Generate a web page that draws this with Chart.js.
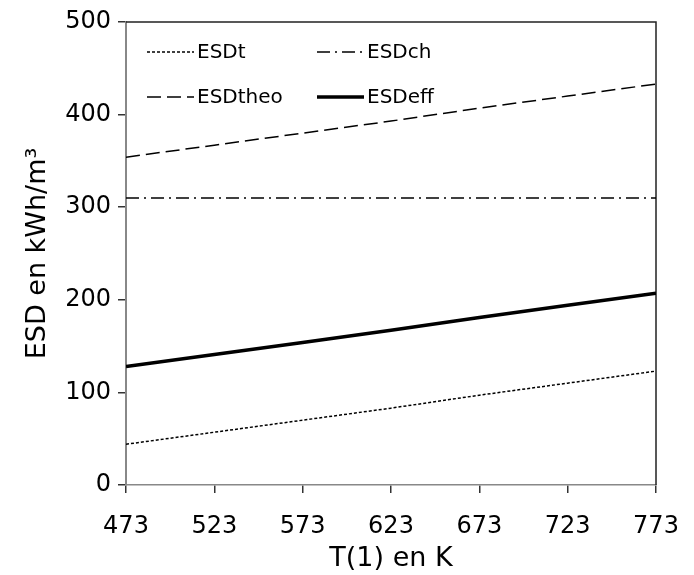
<!DOCTYPE html>
<html>
<head>
<meta charset="utf-8">
<script src="https://cdn.jsdelivr.net/npm/chart.js@4"></script>
<style>
  html, body { margin: 0; padding: 0; background: #fff; }
  #wrap { width: 694px; height: 575px; }
</style>
</head>
<body>
<div id="wrap"><canvas id="myChart"></canvas></div>
<script>
const ctx = document.getElementById('myChart').getContext('2d');

// Temperature T(1) in K
const temps = [473, 523, 573, 623, 673, 723, 773];

// ESD values in kWh/m3
const esdT = [44, 57, 70, 83, 97, 110, 123];
const esdCh = [310, 310, 310, 310, 310, 310, 310];
const esdTheo = [354, 367, 380, 393, 407, 420, 433];
const esdEff = [128, 141, 154, 167, 181, 194, 207];

const FONT = '"DejaVu Sans", Verdana, sans-serif';

function pts(vals) {
    return vals.map((v, i) => ({ x: temps[i], y: v }));
}

const data = {
    datasets: [
        { label: 'ESDt', data: pts(esdT), borderColor: '#000', borderWidth: 1.5, borderDash: [3, 2] },
        { label: 'ESDch', data: pts(esdCh), borderColor: '#000', borderWidth: 1.5, borderDash: [13, 5, 2, 5] },
        { label: 'ESDtheo', data: pts(esdTheo), borderColor: '#000', borderWidth: 1.5, borderDash: [14, 6] },
        { label: 'ESDeff', data: pts(esdEff), borderColor: '#000', borderWidth: 3.5 }
    ]
};

// frame on top and right of the plot area
const framePlugin = {
    id: 'frame',
    beforeDatasetsDraw(chart) {
        const a = chart.chartArea, c = chart.ctx;
        c.save();
        c.strokeStyle = '#222';
        c.lineWidth = 1.5;
        c.beginPath();
        c.moveTo(a.left, a.top);
        c.lineTo(a.right, a.top);
        c.lineTo(a.right, a.bottom);
        c.stroke();
        c.restore();
    }
};

// legend drawn inside the plot, two columns
const insideLegend = {
    id: 'insideLegend',
    afterDatasetsDraw(chart) {
        const a = chart.chartArea, c = chart.ctx;
        const cols = [a.left + 21, a.left + 191];
        const rows = [a.top + 30, a.top + 75];
        c.save();
        c.font = '20px ' + FONT;
        c.textBaseline = 'middle';
        c.fillStyle = '#000';
        chart.data.datasets.forEach((ds, i) => {
            const x = cols[i % 2], y = rows[Math.floor(i / 2)];
            c.strokeStyle = ds.borderColor;
            c.lineWidth = ds.borderWidth;
            c.setLineDash(ds.borderDash || []);
            c.beginPath();
            c.moveTo(x, y);
            c.lineTo(x + 47, y);
            c.stroke();
            c.setLineDash([]);
            c.fillText(ds.label, x + 50, y + 1);
        });
        c.restore();
    }
};

const options = {
    responsive: true,
    maintainAspectRatio: false,
    animation: false,
    layout: { padding: { top: 22, right: 38, left: 0, bottom: 0 } },
    elements: { point: { radius: 0 }, line: { tension: 0 } },
    plugins: {
        legend: { display: false },
        tooltip: { enabled: false }
    },
    scales: {
        x: {
            type: 'linear',
            min: 473,
            max: 773,
            afterBuildTicks(axis) {
                axis.ticks = temps.map(v => ({ value: v }));
            },
            afterFit(axis) {
                axis.height = 90;
                axis.paddingLeft = 0;
                axis.paddingRight = 0;
            },
            grid: { drawOnChartArea: false, drawTicks: true, tickLength: 8, color: '#333', lineWidth: 1.5 },
            border: { color: '#888', width: 1.5 },
            ticks: { color: '#000', font: { family: FONT, size: 24 }, padding: 19, maxRotation: 0 },
            title: { display: true, text: 'T(1) en K', color: '#000', font: { family: FONT, size: 27 }, padding: { top: 0, bottom: 0 } }
        },
        y: {
            min: 0,
            max: 500,
            ticks: { stepSize: 100, color: '#000', font: { family: FONT, size: 24 }, padding: 7 },
            afterFit(axis) {
                axis.width = 126;
                axis.paddingTop = 0;
                axis.paddingBottom = 0;
            },
            grid: { drawOnChartArea: false, drawTicks: true, tickLength: 8, color: '#333', lineWidth: 1.5 },
            border: { color: '#888', width: 2 },
            title: { display: true, text: 'ESD en kWh/m³', color: '#000', font: { family: FONT, size: 27 }, padding: { top: 22, bottom: 0 } }
        }
    }
};

const myChart = new Chart(ctx, {
    type: 'line',
    data: data,
    options: options,
    plugins: [framePlugin, insideLegend]
});
</script>
</body>
</html>
